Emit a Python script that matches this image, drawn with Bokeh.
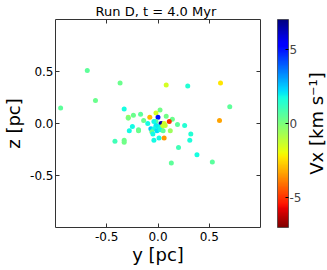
import numpy as np
from bokeh.plotting import figure
from bokeh.layouts import row
from bokeh.models import (LinearColorMapper, ColorBar, FixedTicker, LinearAxis,
                          ColumnDataSource, Range1d)
from bokeh.embed import file_html
from bokeh.resources import INLINE

# ---- data ----
y_pc = [-0.69, -0.95, -0.61, -0.37, 0.08, 0.29, 0.61, 0.70, 0.60, -0.33,
        -0.29, -0.29, -0.24, -0.17, -0.14, -0.25, -0.28, -0.19, -0.19, -0.42,
        -0.33, -0.33, 0.02, -0.02, -0.08, 0.00, -0.02, -0.04, -0.10, 0.03,
        0.08, 0.14, 0.11, 0.06, 0.07, 0.04, 0.00, -0.02, -0.07, -0.04,
        -0.01, 0.02, 0.05, 0.12, 0.19, 0.26, 0.32, -0.06, -0.05, 0.01,
        0.06, -0.04, 0.31, 0.20, 0.38, 0.53, 0.13]
z_pc = [0.51, 0.15, 0.22, 0.39, 0.37, 0.36, 0.39, 0.16, 0.03, 0.14,
        0.06, 0.05, 0.08, 0.09, 0.03, -0.03, -0.07, -0.06, -0.07, -0.17,
        -0.16, -0.18, 0.13, 0.10, 0.06, 0.06, 0.02, 0.02, 0.00, 0.00,
        0.07, 0.04, 0.02, 0.00, -0.02, -0.03, -0.03, -0.02, -0.05, -0.05,
        -0.07, -0.06, -0.07, -0.07, -0.01, -0.02, -0.10, -0.08, -0.10, -0.14,
        -0.14, -0.16, -0.16, -0.23, -0.30, -0.37, -0.38]
vx_kms = [0.5, 0.5, 0.3, 0.3, -1.5, 1.5, -2.3, 0.5, -3.3, 1.7,
          -0.6, 0.0, 0.3, 0.5, 0.3, 1.8, 1.8, 0.5, 0.3, 1.0,
          0.3, 0.2, 0.2, -1.5, -3.0, 5.0, 0.5, 1.8, 1.8, 6.5,
          0.2, 0.3, -5.0, -1.5, -1.2, -1.4, 1.8, 2.0, 2.5, 1.8,
          2.2, 1.8, 0.5, -0.6, 0.5, 1.5, 1.5, 0.3, 1.8, 1.8,
          -3.5, 1.8, 1.6, 1.0, 1.7, 0.6, 0.5]

axis_ticks = [-0.5, 0.0, 0.5]
axis_tick_labels = ["-0.5", "0.0", "0.5"]
cbar_ticks = [-5, 0, 5]
cbar_tick_labels = ["-5", "0", "5"]
title_text = "Run D,  t = 4.0 Myr"
xlabel = "y [pc]"
ylabel = "z [pc]"
cbar_label = "Vx [km s\u207b\u00b9]"
vx_low, vx_high = -7, 7


def jet_reversed(n=256):
    # matplotlib "jet" segment data, reversed (high values blue)
    f = np.linspace(0, 1, n)
    r = np.interp(f, [0, 0.35, 0.66, 0.89, 1], [0, 0, 1, 1, 0.5])
    g = np.interp(f, [0, 0.125, 0.375, 0.64, 0.91, 1], [0, 0, 1, 1, 0, 0])
    b = np.interp(f, [0, 0.11, 0.34, 0.65, 1], [0.5, 1, 1, 0, 0])
    cols = ["#%02x%02x%02x" % (int(round(rr * 255)), int(round(gg * 255)), int(round(bb * 255)))
            for rr, gg, bb in zip(r, g, b)]
    return cols[::-1]


FONT = "DejaVu Sans"
W1, W2, H = 302, 25, 270
BL, BT, BB = 53, 19, 43
FW, FH = 207, H - BT - BB
BR = W1 - BL - FW
mapper = LinearColorMapper(palette=jet_reversed(), low=vx_low, high=vx_high)

p = figure(width=W1, height=H, title=title_text, x_range=Range1d(-1, 1), y_range=Range1d(-1, 1),
           output_backend="svg", toolbar_location=None,
           min_border_left=BL, min_border_right=BR, min_border_top=BT, min_border_bottom=BB)
p.title.align = "center"
p.title.text_font = FONT
p.title.text_font_size = "13px"
p.title.text_font_style = "normal"
p.title.text_color = "black"
p.title.standoff = 1
p.title.offset = 0
p.grid.visible = False
p.outline_line_color = "#333333"
p.outline_line_width = 1
p.background_fill_color = "white"
p.border_fill_color = "white"

src = ColumnDataSource(dict(y=y_pc, z=z_pc, vx=vx_kms))
p.scatter("y", "z", source=src, size=5, line_color=None,
          fill_color={"field": "vx", "transform": mapper})


def style_axis(ax, show_labels=True):
    ax.ticker = FixedTicker(ticks=axis_ticks)
    ax.minor_tick_line_color = None
    ax.major_tick_in = 4
    ax.major_tick_out = 0
    ax.major_tick_line_color = "#333333"
    ax.axis_line_color = None
    ax.major_label_text_font = FONT
    if show_labels:
        ax.major_label_overrides = dict(zip(axis_ticks, axis_tick_labels))
        ax.major_label_text_font_size = "12px"
        ax.major_label_text_color = "black"
    else:
        ax.major_label_overrides = {t: "" for t in axis_ticks}
        ax.major_label_text_font_size = "1px"
        ax.major_label_text_color = None
        ax.major_label_standoff = 0
    ax.axis_label_text_font = FONT
    ax.axis_label_text_font_style = "normal"
    ax.axis_label_text_font_size = "18px"
    ax.axis_label_text_color = "black"


style_axis(p.xaxis[0])
style_axis(p.yaxis[0])
p.xaxis[0].axis_label = xlabel
p.yaxis[0].axis_label = ylabel
p.xaxis[0].major_label_standoff = 4
p.yaxis[0].major_label_standoff = 2
p.xaxis[0].axis_label_standoff = 0
p.yaxis[0].axis_label_standoff = 3

top_ax = LinearAxis()
style_axis(top_ax, show_labels=False)
p.add_layout(top_ax, "above")

right_ax = LinearAxis()
style_axis(right_ax, show_labels=False)
p.add_layout(right_ax, "right")

cbar = ColorBar(color_mapper=mapper, ticker=FixedTicker(ticks=cbar_ticks),
                major_label_overrides=dict(zip(cbar_ticks, cbar_tick_labels)),
                location=(FW + 15, 0), width=11, height=FH, padding=0, margin=0,
                label_standoff=1,
                major_label_text_font=FONT, major_label_text_font_size="12px",
                major_tick_line_color="black", major_tick_in=3, major_tick_out=0,
                bar_line_color="#333333", bar_line_width=0.7,
                border_line_color=None, background_fill_color=None)
p.add_layout(cbar, "center")

# narrow companion figure carrying the rotated colour-bar label
p2 = figure(width=W2, height=H, x_range=Range1d(0, 1), y_range=Range1d(vx_low, vx_high),
            output_backend="svg", toolbar_location=None,
            min_border_left=0, min_border_right=0, min_border_top=BT, min_border_bottom=BB)
p2.grid.visible = False
p2.outline_line_color = None
p2.background_fill_color = None
p2.border_fill_color = "white"
p2.xaxis.visible = False
ya = p2.yaxis[0]
ya.ticker = FixedTicker(ticks=[])
ya.major_label_text_font_size = "1px"
ya.major_label_text_color = None
ya.major_label_standoff = 0
ya.major_tick_line_color = None
ya.minor_tick_line_color = None
ya.axis_line_color = None
ya.axis_label = cbar_label
ya.axis_label_standoff = 1
ya.axis_label_text_font = FONT
ya.axis_label_text_font_style = "normal"
ya.axis_label_text_font_size = "18px"
ya.axis_label_text_color = "black"

layout = row(p, p2, spacing=0)
open("out.html", "w").write(file_html(layout, INLINE))
